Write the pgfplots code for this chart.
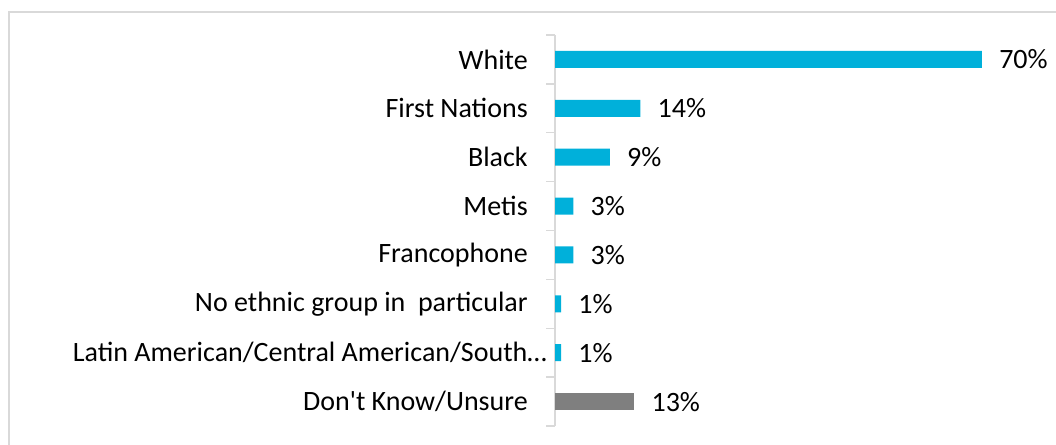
\documentclass[border=0pt]{standalone}
\usepackage{fontspec}
\setmainfont{Carlito}[Ligatures=TeXOff]
\usepackage{pgfplots}
\pgfplotsset{compat=1.18}

\definecolor{barblue}{HTML}{00B0DA}
\definecolor{bargray}{HTML}{7F7F7F}
\definecolor{framegray}{HTML}{D9D9D9}

% 1 px of the reference = 0.75pt
\begin{document}
\begin{tikzpicture}
\begin{scope}
  \clip (0,0) rectangle (792pt,-333pt);
  \draw[framegray, line width=1.5pt] (6.75pt,-9pt) rectangle (900pt,-400pt);
\end{scope}
\begin{axis}[
    at={(416.25pt,-26.25pt)}, anchor=north west,
    scale only axis, width=366pt, height=293.25pt,
    xbar, bar width=12.75pt, bar shift=0pt,
    xmin=0, xmax=80,
    ymin=-0.5, ymax=7.5, y dir=reverse,
    axis x line=none,
    axis y line*=left,
    y axis line style={draw=framegray, line width=1.1pt},
    ytick={0,...,7},
    yticklabels={White, First Nations, Black, Metis, Francophone,
      No ethnic group in\ \ particular,
      Latin American/Central American/South…\hspace*{-14.25pt},
      Don't Know/Unsure},
    minor ytick={-0.5,0.5,...,7.5},
    major tick length=0pt, minor tick length=6.75pt,
    tick align=outside,
    minor tick style={draw=framegray, line width=1.1pt},
    yticklabel style={font=\fontsize{21}{25}\selectfont, text=black,
      inner sep=0pt, xshift=-20.25pt},
    /pgf/number format/assume math mode=true,
    nodes near coords={\pgfmathprintnumber{\pgfplotspointmeta}\%},
    nodes near coords style={font=\fontsize{21}{25}\selectfont, text=black,
      anchor=west, inner sep=0pt, xshift=12.75pt},
    clip=false,
  ]
\addplot[fill=barblue, draw=none] coordinates {
  (70,0) (14,1) (9,2) (3,3) (3,4) (1,5) (1,6)};
\addplot[fill=bargray, draw=none] coordinates {(13,7)};
\end{axis}
\pgfresetboundingbox
\useasboundingbox (0,0) rectangle (792pt,-333pt);
\end{tikzpicture}
\end{document}
